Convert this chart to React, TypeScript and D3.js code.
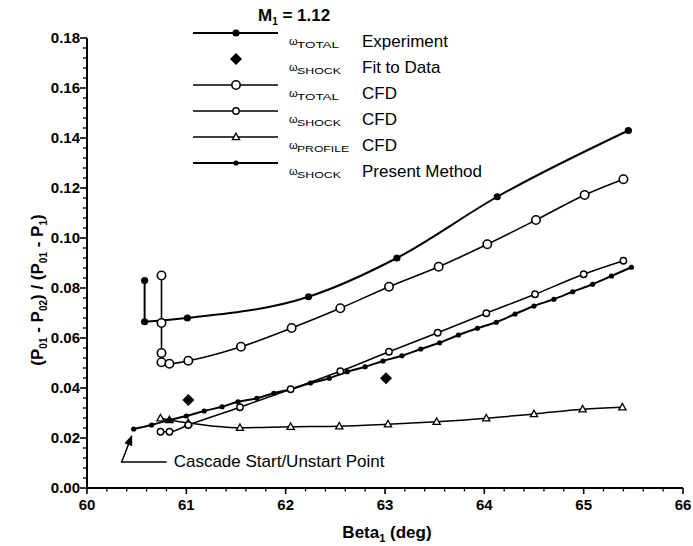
import React from "react";
import * as d3 from "d3";

// omega_TOTAL, experiment
const expBeta = [60.58, 60.58, 61.01, 62.23, 63.12, 64.13, 65.45];
const expLoss = [0.083, 0.0665, 0.068, 0.0765, 0.092, 0.1165, 0.143];

// omega_SHOCK, fit to data
const fitBeta = [61.02, 63.01];
const fitLoss = [0.0352, 0.0439];

// omega_TOTAL, CFD
const cfdTotBeta = [60.75, 60.75, 60.75, 60.75, 60.83, 61.02, 61.55, 62.06, 62.55, 63.04, 63.54, 64.03, 64.52, 65.01, 65.4];
const cfdTotLoss = [0.085, 0.066, 0.054, 0.0503, 0.0497, 0.0509, 0.0565, 0.064, 0.0719, 0.0805, 0.0885, 0.0975, 0.1072, 0.1172, 0.1235];

// omega_SHOCK, CFD
const cfdShockBeta = [60.74, 60.83, 61.02, 61.54, 62.05, 62.55, 63.04, 63.53, 64.02, 64.51, 65.0, 65.4];
const cfdShockLoss = [0.0225, 0.0225, 0.0252, 0.0323, 0.0395, 0.0467, 0.0545, 0.0621, 0.0699, 0.0775, 0.0855, 0.0909];

// omega_PROFILE, CFD
const cfdProfBeta = [60.74, 60.83, 61.02, 61.54, 62.05, 62.54, 63.03, 63.52, 64.02, 64.5, 64.99, 65.39];
const cfdProfLoss = [0.0279, 0.0272, 0.026, 0.0241, 0.0245, 0.0247, 0.0255, 0.0265, 0.0279, 0.0296, 0.0315, 0.0323];

// omega_SHOCK, present method
const presBeta = [60.47, 60.65, 60.83, 61.0, 61.18, 61.36, 61.52, 61.71, 61.88, 62.05, 62.25, 62.44, 62.62, 62.8, 62.98, 63.17, 63.36, 63.55, 63.74, 63.93, 64.12, 64.31, 64.5, 64.7, 64.89, 65.09, 65.28, 65.48];
const presLoss = [0.0236, 0.0252, 0.0272, 0.0288, 0.0308, 0.0325, 0.0345, 0.0359, 0.0379, 0.0395, 0.042, 0.0439, 0.0465, 0.0485, 0.0508, 0.0529, 0.0556, 0.0581, 0.0612, 0.0639, 0.0663, 0.0696, 0.0728, 0.0755, 0.0785, 0.0815, 0.0848, 0.0883];

const xTicks = [60, 61, 62, 63, 64, 65, 66];
const yTicks = [0, 0.02, 0.04, 0.06, 0.08, 0.1, 0.12, 0.14, 0.16, 0.18];

const legendSub = ["TOTAL", "SHOCK", "TOTAL", "SHOCK", "PROFILE", "SHOCK"];
const legendText = ["Experiment", "Fit to Data", "CFD", "CFD", "CFD", "Present Method"];

const FONT = "'Liberation Sans', Arial, Helvetica, sans-serif";

type Pt = [number, number];
const zip = (a: number[], b: number[]): Pt[] => a.map((v, i) => [v, b[i]]);

function Marker({ kind, cx, cy }: { kind: string; cx: number; cy: number }) {
    if (kind === "fill") return <circle cx={cx} cy={cy} r={3.6} fill="#000" />;
    if (kind === "dot") return <circle cx={cx} cy={cy} r={2.6} fill="#000" />;
    if (kind === "open") return <circle cx={cx} cy={cy} r={4.2} fill="#fff" stroke="#000" strokeWidth={1.6} />;
    if (kind === "openS") return <circle cx={cx} cy={cy} r={3.2} fill="#fff" stroke="#000" strokeWidth={1.4} />;
    if (kind === "tri")
        return <path d={`M${cx},${cy - 3.8}L${cx + 3.6},${cy + 2.6}L${cx - 3.6},${cy + 2.6}Z`} fill="#fff" stroke="#000" strokeWidth={1.3} />;
    if (kind === "diamond")
        return <path d={`M${cx},${cy - 6}L${cx + 6},${cy}L${cx},${cy + 6}L${cx - 6},${cy}Z`} fill="#000" />;
    return null;
}

export default function App() {
    const width = 693;
    const height = 546;

    const x = d3.scaleLinear().domain([60, 66]).range([87, 683]);
    const y = d3.scaleLinear().domain([0, 0.18]).range([488, 38]);

    const straight = d3.line<Pt>().x((d) => x(d[0])).y((d) => y(d[1]));
    const smooth = d3.line<Pt>().x((d) => x(d[0])).y((d) => y(d[1])).curve(d3.curveMonotoneX);

    const exp = zip(expBeta, expLoss);
    const cfdTot = zip(cfdTotBeta, cfdTotLoss);
    const cfdShock = zip(cfdShockBeta, cfdShockLoss);
    const cfdProf = zip(cfdProfBeta, cfdProfLoss);
    const pres = zip(presBeta, presLoss);
    const fit = zip(fitBeta, fitLoss);

    const xMinor = d3.range(60, 66.001, 0.2).filter((v) => Math.abs(v - Math.round(v)) > 0.01);
    const yMinor = d3.range(0, 0.1801, 0.004).filter((v) => Math.abs(v / 0.02 - Math.round(v / 0.02)) > 0.01);

    const sx = x(presBeta[0]);
    const sy = y(presLoss[0]);

    const legendKinds = ["fill", "diamond", "open", "openS", "tri", "dot"];
    const subLen = [42, 44, 42, 44, 52, 44];

    return (
        <svg width={width} height={height} style={{ position: "absolute", left: 0, top: 0, background: "#fff" }} fontFamily={FONT}>
            {/* axes */}
            <line x1={x(60)} x2={x(66)} y1={y(0)} y2={y(0)} stroke="#000" strokeWidth={2} />
            <line x1={x(60)} x2={x(60)} y1={y(0)} y2={y(0.18)} stroke="#000" strokeWidth={2} />
            {xTicks.map((t) => (
                <g key={"xt" + t}>
                    <line x1={x(t)} x2={x(t)} y1={y(0)} y2={y(0) + 6} stroke="#000" strokeWidth={1.6} />
                    <text x={x(t)} y={y(0) + 22} textAnchor="middle" fontSize={15} fontWeight="bold">{t}</text>
                </g>
            ))}
            {xMinor.map((t) => (
                <line key={"xm" + t} x1={x(t)} x2={x(t)} y1={y(0)} y2={y(0) + 3.5} stroke="#000" strokeWidth={1.3} />
            ))}
            {yTicks.map((t) => (
                <g key={"yt" + t}>
                    <line x1={x(60) - 7} x2={x(60)} y1={y(t)} y2={y(t)} stroke="#000" strokeWidth={1.6} />
                    <text x={x(60) - 7} y={y(t) + 5} textAnchor="end" fontSize={15} fontWeight="bold">{d3.format(".2f")(t)}</text>
                </g>
            ))}
            {yMinor.map((t) => (
                <line key={"ym" + t} x1={x(60) - 4} x2={x(60)} y1={y(t)} y2={y(t)} stroke="#000" strokeWidth={1.3} />
            ))}

            {/* axis titles */}
            <text x={387} y={538} textAnchor="middle" fontSize={17} fontWeight="bold">
                Beta<tspan fontSize={11} dy={4}>1</tspan><tspan dy={-4}> (deg)</tspan>
            </text>
            <text transform="translate(43,290) rotate(-90)" textAnchor="middle" fontSize={17} fontWeight="bold">
                (P<tspan fontSize={10} dy={4}>01</tspan><tspan dy={-4}> - P</tspan><tspan fontSize={10} dy={4}>02</tspan>
                <tspan dy={-4}>) / (P</tspan><tspan fontSize={10} dy={4}>01</tspan><tspan dy={-4}> - P</tspan>
                <tspan fontSize={10} dy={4}>1</tspan><tspan dy={-4}>)</tspan>
            </text>

            {/* series lines */}
            <g fill="none" stroke="#000">
                <path d={straight(exp.slice(0, 2)) ?? ""} strokeWidth={2} />
                <path d={smooth(exp.slice(1)) ?? ""} strokeWidth={2} />
                <path d={straight(cfdTot.slice(0, 4)) ?? ""} strokeWidth={1.6} />
                <path d={smooth(cfdTot.slice(3)) ?? ""} strokeWidth={1.6} />
                <path d={smooth(cfdShock) ?? ""} strokeWidth={1.5} />
                <path d={smooth(cfdProf) ?? ""} strokeWidth={1.5} />
                <path d={smooth(pres) ?? ""} strokeWidth={2} />
            </g>

            {/* markers */}
            {cfdProf.map((d, i) => <Marker key={"pr" + i} kind="tri" cx={x(d[0])} cy={y(d[1])} />)}
            {pres.map((d, i) => <Marker key={"pm" + i} kind="dot" cx={x(d[0])} cy={y(d[1])} />)}
            {cfdShock.map((d, i) => <Marker key={"cs" + i} kind="openS" cx={x(d[0])} cy={y(d[1])} />)}
            {cfdTot.map((d, i) => <Marker key={"ct" + i} kind="open" cx={x(d[0])} cy={y(d[1])} />)}
            {exp.map((d, i) => <Marker key={"ex" + i} kind="fill" cx={x(d[0])} cy={y(d[1])} />)}
            {fit.map((d, i) => <Marker key={"ft" + i} kind="diamond" cx={x(d[0])} cy={y(d[1])} />)}

            {/* start/unstart annotation */}
            <defs>
                <marker id="arr" viewBox="0 0 10 10" refX={9} refY={5} markerWidth={7} markerHeight={7} orient="auto">
                    <path d="M0,1L10,5L0,9Z" fill="#000" />
                </marker>
            </defs>
            <path d={`M${sx + 33},${sy + 33}H${sx - 12}L${sx - 2},${sy + 7}`} fill="none" stroke="#000" strokeWidth={1.5} markerEnd="url(#arr)" />
            <text x={sx + 40} y={sy + 38} fontSize={17}>Cascade Start/Unstart Point</text>

            {/* legend */}
            <text x={258} y={21} fontSize={17} fontWeight="bold">
                M<tspan fontSize={10} dy={4}>1</tspan><tspan dy={-4}> = 1.12</tspan>
            </text>
            {legendText.map((t, i) => {
                const ly = 33 + 26 * i;
                const kind = legendKinds[i];
                return (
                    <g key={"lg" + i}>
                        {kind !== "diamond" && (
                            <line x1={193} x2={278} y1={ly} y2={ly} stroke="#000" strokeWidth={kind === "fill" || kind === "dot" ? 2 : 1.5} />
                        )}
                        <Marker kind={kind} cx={236} cy={ly} />
                        <text x={289} y={ly + 12} fontSize={11}>ω</text>
                        <text x={297} y={ly + 15} fontSize={9} textLength={subLen[i]} lengthAdjust="spacingAndGlyphs">{legendSub[i]}</text>
                        <text x={362} y={ly + 14} fontSize={17}>{t}</text>
                    </g>
                );
            })}
        </svg>
    );
}
